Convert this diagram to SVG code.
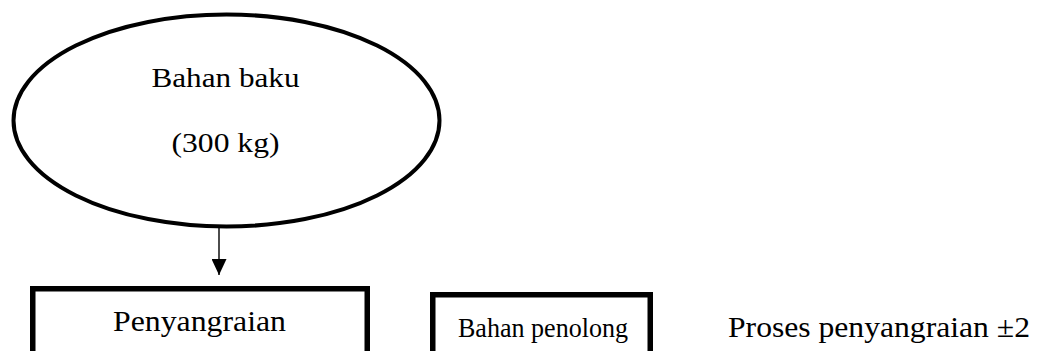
<svg xmlns="http://www.w3.org/2000/svg" width="1038" height="351" viewBox="0 0 1038 351">
<style>
.t{font-family:"Liberation Serif","Times New Roman",serif;fill:#000;}
.shape{fill:#fff;stroke:#000;}
</style>
<defs>
<marker id="arr" markerWidth="16" markerHeight="15" refX="16" refY="7.5" orient="auto" markerUnits="userSpaceOnUse">
<path d="M0,0 L16,7.5 L0,15 Z" fill="#000"/>
</marker>
</defs>
<rect width="1038" height="351" fill="#fff"/>
<g id="connectors">
<line x1="219" y1="228" x2="219" y2="275" stroke="#000" stroke-width="1.4" marker-end="url(#arr)"/>
</g>
<g id="node-bahan-baku">
<ellipse class="shape" cx="226.5" cy="120.5" rx="213" ry="106" stroke-width="4"/>
<text class="t" x="225.5" y="87" font-size="27" text-anchor="middle" textLength="148" lengthAdjust="spacingAndGlyphs">Bahan baku</text>
<text class="t" x="225.5" y="152" font-size="27" text-anchor="middle" textLength="108" lengthAdjust="spacingAndGlyphs">(300 kg)</text>
</g>
<g id="node-penyangraian">
<rect class="shape" x="32.75" y="288.75" width="334.5" height="80" stroke-width="5.5"/>
<text class="t" x="199.5" y="331" font-size="30" text-anchor="middle" textLength="173" lengthAdjust="spacingAndGlyphs">Penyangraian</text>
</g>
<g id="node-bahan-penolong">
<rect class="shape" x="432.75" y="294.75" width="217.5" height="80" stroke-width="5.5"/>
<text class="t" x="543" y="337" font-size="28" text-anchor="middle" textLength="170" lengthAdjust="spacingAndGlyphs">Bahan penolong</text>
</g>
<g id="text-proses">
<text class="t" x="728" y="337" font-size="30" textLength="302" lengthAdjust="spacingAndGlyphs">Proses penyangraian ±2</text>
</g>
</svg>
